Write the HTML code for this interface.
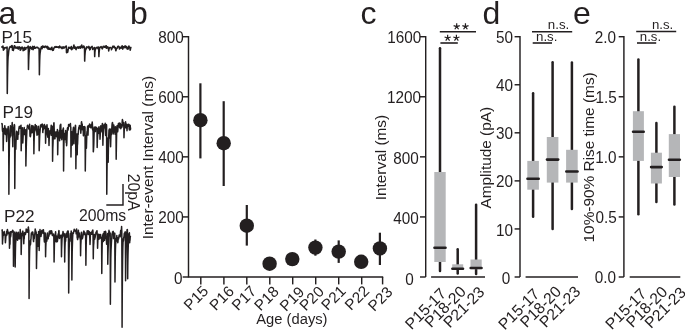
<!DOCTYPE html>
<html><head><meta charset="utf-8"><title>Figure</title>
<style>html,body{margin:0;padding:0;background:#fff}body{width:685px;height:330px;overflow:hidden}svg{display:block;will-change:transform}text{font-family:"Liberation Sans",sans-serif;fill:#231f20}</style>
</head><body>
<svg width="685" height="330" viewBox="0 0 685 330">
<rect width="685" height="330" fill="#fff"/>
<text x="-1.6" y="23.5" font-size="32">a</text>
<text x="129.9" y="23.5" font-size="32">b</text>
<text x="360.5" y="23.5" font-size="32">c</text>
<text x="482.6" y="23.5" font-size="32">d</text>
<text x="573.0" y="23.5" font-size="32">e</text>
<text x="1.4" y="42.9" font-size="17.2">P15</text>
<text x="2.6" y="117.6" font-size="17.2">P19</text>
<text x="4.0" y="221.6" font-size="17.2">P22</text>
<text x="78.9" y="221.0" font-size="15.75">200ms</text>
<text transform="translate(127.6,173.7) rotate(90)" font-size="15.85">20pA</text>
<path d="M106.3 204.9H123V184.1" fill="none" stroke="#231f20" stroke-width="1.45"/>
<polyline points="1.70,47.0 1.90,46.9 2.10,46.9 2.30,47.2 2.50,47.5 2.70,46.7 2.90,46.0 3.10,47.2 3.30,48.6 3.38,50.2 3.50,50.0 3.70,48.9 3.90,48.2 4.10,48.0 4.30,48.3 4.50,48.9 4.70,48.1 4.90,47.7 5.10,47.6 5.30,47.5 5.50,47.7 5.70,47.8 5.90,47.8 6.10,47.9 6.30,47.8 6.50,47.7 6.70,47.4 6.90,47.0 7.10,47.0 7.28,93.4 7.30,91.6 7.50,77.3 7.70,67.3 7.90,60.5 8.10,56.7 8.30,55.3 8.50,53.4 8.70,51.4 8.90,50.0 9.10,49.0 9.30,48.2 9.50,47.8 9.70,47.6 9.90,47.1 10.10,46.6 10.30,46.8 10.50,47.1 10.70,47.0 10.90,46.5 11.10,46.3 11.30,46.8 11.50,47.3 11.70,46.5 11.90,45.6 12.10,45.6 12.30,46.8 12.50,50.1 12.70,49.7 12.90,49.6 13.10,49.1 13.30,50.5 13.50,49.6 13.70,49.0 13.90,47.8 14.10,46.4 14.30,45.8 14.50,45.8 14.70,45.9 14.90,45.9 15.10,47.0 15.30,47.9 15.50,47.3 15.70,47.4 15.90,47.9 16.10,47.9 16.30,47.5 16.50,47.2 16.70,47.3 16.90,47.6 17.10,48.2 17.30,47.7 17.50,47.3 17.70,47.1 17.90,47.4 18.10,48.5 18.30,49.1 18.50,48.5 18.70,48.0 18.90,47.3 19.10,46.7 19.30,47.2 19.50,48.0 19.70,48.0 19.90,47.3 20.10,48.7 20.18,50.2 20.30,49.8 20.50,49.2 20.70,49.3 20.90,49.6 21.10,48.8 21.30,47.7 21.50,47.2 21.70,47.3 21.90,47.3 22.10,47.2 22.30,47.1 22.50,47.8 22.70,48.5 22.90,48.7 23.10,50.7 23.30,50.1 23.50,48.7 23.70,48.0 23.90,48.4 24.10,48.9 24.30,50.1 24.50,48.0 24.70,47.4 24.90,47.5 25.10,47.8 25.30,48.2 25.50,48.4 25.70,49.4 25.90,48.1 26.10,47.9 26.30,47.9 26.50,47.8 26.70,47.6 26.90,47.6 27.10,47.8 27.30,47.8 27.50,47.6 27.70,47.5 27.90,46.8 28.10,46.1 28.30,46.3 28.48,69.4 28.50,68.5 28.70,60.8 28.90,55.6 29.10,52.4 29.30,50.9 29.50,50.1 29.70,48.4 29.90,46.9 30.10,46.6 30.30,46.8 30.50,47.2 30.70,47.8 30.90,48.3 31.10,47.9 31.30,47.6 31.50,48.3 31.70,49.1 31.90,48.6 32.10,48.9 32.30,48.8 32.50,47.2 32.70,46.4 32.90,47.4 33.10,49.7 33.30,49.2 33.50,48.4 33.70,47.8 33.90,47.3 34.10,46.9 34.30,46.4 34.50,47.2 34.70,48.1 34.90,48.1 35.10,48.0 35.30,48.1 35.50,47.9 35.70,47.7 35.90,47.5 36.10,47.4 36.30,47.3 36.50,47.5 36.70,47.6 36.90,47.5 37.10,47.3 37.30,47.5 37.50,47.7 37.70,47.4 37.90,47.7 38.10,47.9 38.30,47.9 38.50,47.9 38.70,48.3 38.90,48.8 39.10,48.4 39.30,62.9 39.38,74.7 39.50,68.0 39.70,60.1 39.90,55.2 40.10,53.0 40.30,51.8 40.50,50.4 40.70,49.4 40.90,48.5 41.10,47.7 41.30,47.1 41.50,46.7 41.70,46.7 41.90,47.7 42.10,48.7 42.30,47.4 42.50,46.1 42.70,46.1 42.90,46.5 43.10,46.8 43.30,47.2 43.50,47.3 43.70,46.7 43.90,46.2 44.10,46.6 44.30,46.9 44.50,47.2 44.70,47.5 44.90,47.4 45.10,47.1 45.30,46.7 45.50,46.4 45.70,46.1 45.90,46.4 46.10,46.6 46.30,46.8 46.50,47.0 46.70,47.4 46.90,47.9 47.10,48.0 47.30,47.2 47.50,46.4 47.70,47.4 47.90,48.5 48.10,49.2 48.30,47.8 48.50,47.5 48.70,48.2 48.90,48.8 49.10,49.0 49.30,49.2 49.50,48.9 49.70,48.5 49.90,48.2 50.10,49.0 50.30,49.3 50.50,49.5 50.70,49.5 50.90,49.0 51.10,48.6 51.30,48.2 51.50,47.9 51.70,47.5 51.90,47.2 52.10,48.7 52.18,50.0 52.30,49.5 52.50,48.9 52.70,50.4 52.90,49.5 53.10,49.8 53.30,50.3 53.50,49.6 53.70,48.6 53.90,48.1 54.10,47.9 54.30,47.7 54.50,47.3 54.70,46.9 54.90,47.1 55.10,47.4 55.30,47.3 55.50,47.0 55.70,46.8 55.90,46.6 56.10,46.6 56.30,46.9 56.50,47.2 56.70,47.0 56.90,46.8 57.10,47.0 57.30,47.2 57.50,47.3 57.70,47.2 57.90,47.1 58.10,46.9 58.30,46.7 58.50,47.2 58.70,47.7 58.90,47.8 59.10,47.8 59.30,47.2 59.50,47.2 59.70,46.1 59.90,46.8 60.10,47.5 60.30,47.4 60.50,47.3 60.70,47.2 60.90,47.1 61.10,47.3 61.30,47.8 61.50,48.1 61.70,47.6 61.90,47.2 62.10,48.6 62.30,48.3 62.50,47.6 62.70,47.1 62.90,47.1 63.10,47.5 63.30,47.5 63.50,48.1 63.70,46.9 63.90,47.0 64.10,47.2 64.30,48.0 64.50,47.6 64.70,47.3 64.90,47.1 65.10,47.0 65.30,47.0 65.50,46.9 65.70,46.6 65.90,46.2 66.10,46.1 66.30,46.1 66.48,52.6 66.50,52.5 66.70,52.7 66.90,52.7 67.10,51.1 67.30,49.8 67.50,50.7 67.70,52.2 67.90,51.0 68.10,49.8 68.30,48.8 68.50,47.8 68.70,47.3 68.90,47.7 69.10,48.2 69.30,47.8 69.50,47.4 69.70,47.4 69.90,47.5 70.10,47.8 70.30,48.3 70.50,48.6 70.70,48.3 70.90,48.0 71.10,47.3 71.30,46.6 71.50,47.4 71.70,49.8 71.90,49.3 72.10,48.5 72.30,48.0 72.50,48.3 72.70,48.7 72.90,48.2 73.10,47.7 73.30,47.0 73.50,46.4 73.70,45.7 73.90,45.0 74.10,45.9 74.30,47.0 74.50,48.1 74.70,48.1 74.90,47.5 75.10,47.2 75.30,47.0 75.50,47.5 75.70,48.5 75.90,49.3 76.10,49.6 76.30,48.5 76.50,48.4 76.70,48.5 76.90,47.9 77.10,47.1 77.30,47.0 77.50,47.5 77.70,47.8 77.90,47.3 78.10,46.8 78.30,47.5 78.50,48.0 78.70,48.2 78.90,48.0 79.10,47.9 79.30,47.7 79.50,47.5 79.70,46.9 79.90,46.5 80.10,47.3 80.30,48.2 80.50,48.0 80.70,47.5 80.90,46.9 81.10,46.3 81.30,45.7 81.50,45.4 81.70,45.0 81.90,46.2 82.10,47.4 82.30,47.7 82.50,47.7 82.70,47.6 82.90,47.6 83.10,47.3 83.30,46.7 83.50,46.1 83.70,46.1 83.90,46.2 84.10,46.6 84.30,47.2 84.50,47.3 84.68,61.1 84.70,60.5 84.90,55.8 85.10,53.0 85.30,51.2 85.50,50.1 85.70,49.5 85.90,49.1 86.10,48.9 86.30,48.4 86.50,47.5 86.70,46.9 86.90,47.1 87.10,47.2 87.30,47.4 87.50,47.5 87.70,47.3 87.90,47.0 88.10,47.1 88.30,47.7 88.50,47.9 88.70,47.2 88.90,46.4 89.10,47.0 89.30,47.6 89.50,47.4 89.70,50.0 89.90,49.5 90.10,49.4 90.30,49.3 90.50,48.5 90.70,47.9 90.90,47.4 91.10,47.0 91.30,47.0 91.50,47.1 91.70,46.9 91.90,46.5 92.10,46.4 92.30,47.2 92.50,47.9 92.70,49.4 92.90,49.2 93.10,48.6 93.30,48.2 93.50,48.0 93.70,48.0 93.90,48.1 94.10,48.0 94.30,47.9 94.50,47.5 94.68,56.6 94.70,56.1 94.90,52.2 95.10,50.7 95.30,49.4 95.50,49.2 95.70,49.1 95.90,48.4 96.10,47.9 96.30,47.6 96.50,47.5 96.70,47.6 96.90,47.8 97.10,47.7 97.30,47.3 97.50,47.2 97.70,47.9 97.90,48.6 98.10,47.9 98.30,47.3 98.50,47.1 98.70,47.1 98.88,56.6 98.90,56.2 99.10,52.7 99.30,50.6 99.50,49.1 99.70,48.1 99.90,47.7 100.10,47.4 100.30,47.3 100.50,47.3 100.70,47.1 100.90,46.7 101.10,46.5 101.30,46.9 101.50,47.4 101.70,47.4 101.90,48.4 102.10,48.5 102.30,48.9 102.50,48.6 102.70,47.6 102.90,46.9 103.10,46.6 103.30,46.4 103.50,46.4 103.70,46.3 103.90,46.6 104.10,47.1 104.30,47.3 104.50,47.3 104.70,47.1 104.90,46.6 105.10,46.2 105.30,46.8 105.50,47.5 105.70,47.0 105.90,46.0 106.10,45.7 106.30,46.0 106.50,48.3 106.70,48.1 106.90,47.7 107.10,47.6 107.30,47.5 107.50,47.2 107.70,46.8 107.90,47.0 108.10,47.9 108.30,48.5 108.50,48.4 108.70,50.9 108.90,49.6 109.10,48.6 109.30,48.1 109.50,47.8 109.70,47.7 109.90,47.5 110.10,47.4 110.30,47.4 110.50,47.4 110.70,47.7 110.90,47.9 111.10,48.0 111.30,48.2 111.50,49.8 111.70,49.2 111.90,48.6 112.10,48.1 112.30,47.6 112.50,47.0 112.70,46.5 112.90,46.2 113.10,46.1 113.30,46.4 113.50,47.1 113.70,47.4 113.90,46.8 114.10,46.2 114.30,46.5 114.50,46.8 114.70,47.4 114.90,48.0 115.10,48.2 115.30,47.9 115.50,47.7 115.70,50.3 115.90,50.8 116.10,49.8 116.30,49.1 116.50,48.8 116.70,48.6 116.90,48.4 117.10,48.2 117.30,47.9 117.50,47.2 117.70,46.5 117.90,46.4 118.10,46.2 118.30,46.2 118.50,46.3 118.70,46.5 118.90,46.8 119.10,47.2 119.30,48.1 119.50,49.0 119.70,48.2 119.90,47.5 120.10,47.3 120.30,47.2 120.50,47.4 120.70,47.8 120.90,48.1 121.10,48.1 121.30,48.0 121.50,47.4 121.70,46.8 121.90,46.2 122.10,45.7 122.30,46.3 122.50,48.1 122.70,49.1 122.90,48.0 123.10,46.8 123.30,46.8 123.50,46.7 123.70,47.2 123.90,47.8 124.10,47.7 124.30,46.9 124.50,46.3 124.70,46.5 124.90,46.8 125.10,46.4 125.30,45.9 125.50,46.5 125.70,47.4 125.90,47.6 126.10,46.9 126.30,46.5 126.50,46.8 126.70,47.2 126.90,47.5 127.10,49.0 127.30,48.3 127.50,47.6 127.70,47.8 127.90,48.6 128.10,49.1 128.30,48.1 128.50,47.2 128.70,46.6 128.90,46.0 129.10,46.5 129.30,47.4 129.50,47.9 129.70,47.9 129.90,47.9 130.10,49.2 130.18,50.2 130.30,49.9 130.50,48.8 130.70,47.8 130.90,47.4" fill="none" stroke="#231f20" stroke-width="1.55" stroke-linejoin="round" stroke-linecap="round"/>
<polyline points="1.80,123.8 2.00,123.5 2.20,124.0 2.40,129.6 2.60,131.5 2.80,129.1 3.00,129.1 3.18,150.8 3.20,149.6 3.40,140.2 3.60,133.1 3.80,128.6 4.00,128.7 4.20,133.9 4.40,130.4 4.60,127.0 4.80,125.7 5.00,127.9 5.20,133.1 5.40,130.8 5.60,134.6 5.80,132.1 6.00,128.5 6.20,131.1 6.40,134.1 6.60,141.4 6.80,138.9 7.00,135.1 7.20,132.7 7.40,131.0 7.60,129.4 7.80,129.3 8.00,128.5 8.20,126.5 8.40,127.6 8.60,130.1 8.80,165.0 8.88,194.3 9.00,177.0 9.20,158.3 9.40,144.8 9.60,138.2 9.80,137.9 10.00,137.5 10.20,131.8 10.40,125.7 10.60,135.5 10.80,135.9 11.00,130.9 11.20,128.9 11.40,127.9 11.60,127.4 11.80,127.2 12.00,125.6 12.20,122.6 12.40,127.3 12.60,138.8 12.80,146.7 13.00,137.5 13.20,132.5 13.40,130.7 13.60,128.3 13.80,127.2 14.00,127.0 14.20,125.1 14.40,124.6 14.60,125.6 14.78,188.6 14.80,185.7 15.00,162.8 15.20,148.1 15.40,144.5 15.60,143.6 15.80,149.3 16.00,142.5 16.20,138.1 16.40,133.3 16.60,131.2 16.80,139.0 17.00,136.2 17.20,134.0 17.40,132.5 17.60,139.0 17.80,139.3 18.00,133.9 18.20,131.7 18.40,133.1 18.60,134.2 18.80,129.5 19.00,127.9 19.20,126.9 19.40,126.4 19.60,126.9 19.80,127.5 20.00,128.3 20.20,127.7 20.40,127.3 20.60,127.0 20.80,125.7 21.00,125.2 21.18,150.8 21.20,150.1 21.40,142.2 21.60,138.0 21.80,133.6 22.00,131.6 22.20,128.8 22.40,127.7 22.60,132.5 22.80,142.9 23.00,139.0 23.20,135.0 23.40,131.9 23.60,133.2 23.80,132.2 24.00,129.9 24.20,127.6 24.40,133.7 24.60,134.3 24.80,134.0 25.00,131.9 25.20,134.6 25.40,135.5 25.60,129.8 25.80,148.1 25.88,166.1 26.00,159.6 26.20,149.9 26.40,142.0 26.60,137.7 26.80,132.4 27.00,128.3 27.20,127.7 27.40,125.8 27.60,125.2 27.80,125.9 28.00,126.1 28.20,126.5 28.40,127.0 28.60,126.5 28.80,129.0 29.00,128.0 29.20,127.5 29.40,126.2 29.60,124.2 29.80,129.5 30.00,136.3 30.20,133.1 30.40,136.7 30.60,135.6 30.80,132.5 31.00,132.9 31.20,132.8 31.40,128.1 31.60,126.1 31.80,125.5 32.00,126.1 32.20,132.7 32.40,131.6 32.60,130.6 32.80,125.9 33.00,125.8 33.20,127.0 33.40,129.2 33.60,126.7 33.80,141.3 33.88,153.8 34.00,146.9 34.20,137.7 34.40,132.8 34.60,131.9 34.80,130.5 35.00,128.0 35.20,124.5 35.40,125.2 35.60,129.8 35.80,128.5 36.00,129.1 36.20,125.7 36.40,126.0 36.60,130.6 36.80,132.2 37.00,135.3 37.20,133.2 37.40,132.9 37.60,134.6 37.80,132.0 38.00,130.4 38.20,126.4 38.40,126.3 38.60,130.4 38.80,129.2 39.00,131.0 39.18,150.8 39.20,150.6 39.40,145.1 39.60,138.7 39.80,133.9 40.00,131.9 40.20,129.4 40.40,126.0 40.60,124.9 40.80,125.1 41.00,126.4 41.20,124.7 41.40,124.9 41.60,124.6 41.80,126.9 42.00,126.2 42.20,123.9 42.40,124.7 42.60,124.7 42.80,132.6 43.00,129.4 43.20,128.9 43.40,129.8 43.60,127.0 43.80,127.0 44.00,127.5 44.20,125.1 44.40,124.4 44.60,125.3 44.80,126.6 45.00,128.8 45.20,126.6 45.40,126.2 45.58,143.3 45.60,142.4 45.80,135.8 46.00,130.5 46.20,128.0 46.40,127.6 46.60,127.5 46.80,126.2 47.00,124.7 47.20,128.1 47.40,134.8 47.60,135.6 47.80,137.2 48.00,134.6 48.20,132.2 48.40,128.6 48.60,134.9 48.80,137.9 49.00,145.4 49.20,139.3 49.40,135.5 49.60,135.7 49.80,132.2 50.00,130.7 50.20,131.3 50.40,131.5 50.60,133.6 50.80,130.7 51.00,127.9 51.20,125.3 51.40,135.2 51.60,133.3 51.80,127.6 52.00,126.9 52.20,126.3 52.40,126.3 52.58,161.3 52.60,159.7 52.80,148.5 53.00,143.9 53.20,137.3 53.40,132.0 53.60,129.0 53.80,122.9 54.00,122.8 54.20,129.7 54.40,138.8 54.60,134.5 54.80,132.5 55.00,138.7 55.20,134.9 55.40,133.6 55.60,132.0 55.80,133.7 56.00,134.5 56.20,135.1 56.40,132.0 56.60,136.7 56.80,135.6 57.00,135.6 57.20,132.7 57.40,129.5 57.60,142.5 57.68,154.8 57.80,149.7 58.00,138.7 58.20,135.9 58.40,134.0 58.60,134.0 58.80,132.3 59.00,132.1 59.20,132.7 59.40,130.4 59.60,140.8 59.80,134.3 60.00,128.1 60.20,124.9 60.40,127.5 60.60,127.8 60.80,124.2 61.00,134.8 61.20,138.2 61.40,137.0 61.60,133.7 61.80,139.8 62.00,137.2 62.20,132.5 62.40,130.2 62.60,130.0 62.80,131.1 63.00,130.3 63.20,128.7 63.40,128.0 63.58,171.0 63.60,168.6 63.80,149.3 64.00,141.5 64.20,136.7 64.40,133.4 64.60,135.4 64.80,136.2 65.00,138.1 65.20,139.6 65.40,135.2 65.60,130.4 65.80,134.2 66.00,136.8 66.20,142.8 66.40,135.9 66.60,145.8 66.80,143.4 67.00,137.1 67.20,132.3 67.40,128.3 67.60,127.8 67.80,127.5 68.00,130.1 68.20,128.9 68.40,127.2 68.60,124.6 68.80,124.5 69.00,125.7 69.20,125.8 69.40,126.1 69.60,126.0 69.80,125.3 70.00,124.6 70.20,125.1 70.40,123.4 70.60,126.7 70.80,127.2 70.98,157.0 71.00,155.3 71.20,142.2 71.40,137.9 71.60,136.2 71.80,131.8 72.00,134.0 72.20,139.1 72.40,145.0 72.60,140.9 72.80,133.8 73.00,130.9 73.20,129.0 73.40,127.7 73.60,127.2 73.80,131.1 74.00,143.7 74.20,138.5 74.40,133.5 74.60,129.3 74.80,129.7 75.00,129.3 75.20,127.8 75.40,125.3 75.60,125.6 75.80,151.5 75.88,168.8 76.00,158.6 76.20,148.6 76.40,139.1 76.60,137.4 76.80,134.0 77.00,145.8 77.20,154.8 77.40,145.1 77.60,143.8 77.80,138.6 78.00,133.6 78.20,134.4 78.40,131.4 78.60,129.4 78.80,127.7 79.00,127.0 79.20,126.4 79.40,125.6 79.60,126.3 79.80,128.7 80.00,127.6 80.20,126.4 80.40,125.9 80.60,129.0 80.80,133.3 81.00,130.7 81.20,127.3 81.40,122.4 81.60,121.7 81.80,124.7 82.00,124.6 82.20,124.0 82.40,129.7 82.60,129.1 82.80,126.4 83.00,126.9 83.20,129.1 83.40,135.8 83.60,134.9 83.80,131.2 84.00,128.1 84.20,126.5 84.40,128.5 84.60,129.9 84.80,129.6 85.00,127.1 85.20,151.6 85.28,171.0 85.40,162.4 85.60,148.1 85.80,139.4 86.00,135.9 86.20,144.2 86.40,148.2 86.60,141.7 86.80,134.0 87.00,131.5 87.20,133.6 87.40,128.7 87.60,126.3 87.80,126.4 88.00,135.1 88.20,130.0 88.40,125.5 88.60,126.9 88.80,127.0 89.00,125.4 89.20,127.1 89.40,126.6 89.60,123.9 89.80,126.6 90.00,126.2 90.20,124.7 90.40,127.3 90.60,126.1 90.80,125.8 91.00,127.9 91.20,126.7 91.40,126.3 91.60,124.5 91.80,123.9 92.00,124.5 92.20,122.1 92.40,124.0 92.60,129.9 92.80,128.4 93.00,126.9 93.20,139.6 93.28,151.8 93.40,151.3 93.60,148.3 93.80,144.3 94.00,135.9 94.20,131.0 94.40,130.6 94.60,127.7 94.80,127.0 95.00,128.2 95.20,130.5 95.40,131.6 95.60,128.4 95.80,126.9 96.00,127.4 96.20,129.5 96.40,128.0 96.60,127.6 96.80,129.9 97.00,127.9 97.18,147.4 97.20,146.8 97.40,139.6 97.60,136.1 97.80,133.6 98.00,128.8 98.20,132.9 98.40,131.1 98.60,130.7 98.80,127.4 99.00,126.8 99.20,133.5 99.40,130.7 99.60,128.2 99.80,129.2 100.00,139.3 100.20,135.6 100.40,131.4 100.60,128.7 100.80,125.7 101.00,131.9 101.20,130.3 101.40,129.5 101.60,130.8 101.80,130.2 102.00,127.9 102.20,125.1 102.40,123.4 102.60,124.0 102.80,137.5 102.88,145.3 103.00,140.8 103.20,134.7 103.40,130.1 103.60,128.5 103.80,127.2 104.00,125.8 104.20,124.7 104.40,124.7 104.60,126.8 104.80,127.0 105.00,128.2 105.20,123.3 105.40,131.5 105.60,135.4 105.80,132.3 106.00,131.7 106.20,128.8 106.40,124.4 106.60,125.6 106.78,194.3 106.80,191.9 107.00,171.8 107.20,155.5 107.40,144.6 107.60,139.9 107.80,140.5 108.00,138.0 108.18,162.3 108.20,160.7 108.40,148.0 108.60,141.4 108.80,134.6 109.00,129.9 109.20,133.3 109.40,129.1 109.60,138.1 109.80,135.4 110.00,133.1 110.20,129.0 110.40,136.5 110.60,146.8 110.80,140.0 111.00,133.9 111.20,129.4 111.40,134.8 111.60,131.3 111.80,128.3 112.00,125.2 112.20,123.5 112.40,122.6 112.60,122.7 112.80,125.4 113.00,131.5 113.20,133.9 113.40,129.2 113.60,125.3 113.80,125.1 114.00,127.3 114.20,132.1 114.40,131.3 114.60,131.3 114.80,130.3 115.00,133.6 115.20,134.3 115.40,126.7 115.60,129.4 115.80,131.0 116.00,130.1 116.18,159.2 116.20,158.1 116.40,145.4 116.60,134.9 116.80,128.8 117.00,125.8 117.20,125.7 117.40,128.7 117.60,131.8 117.80,130.9 118.00,127.1 118.20,124.8 118.40,123.6 118.60,124.6 118.80,125.1 119.00,125.7 119.20,123.2 119.40,123.0 119.60,127.8 119.80,124.6 120.00,123.2 120.20,123.5 120.40,125.7 120.60,126.6 120.80,128.7 121.00,127.5 121.20,124.8 121.40,124.7 121.60,126.8 121.80,127.4 122.00,126.5 122.20,121.4 122.40,119.5 122.60,120.6 122.80,121.2 123.00,123.0 123.20,125.6 123.40,123.6 123.60,124.0 123.80,122.8 123.98,137.8 124.00,137.0 124.20,131.1 124.40,127.6 124.60,126.5 124.80,127.1 125.00,125.0 125.20,126.0 125.40,124.8 125.60,121.7 125.80,123.8 126.00,127.9 126.20,124.7 126.40,125.1 126.60,124.4 126.80,124.2 127.00,130.7 127.20,127.8 127.40,125.0 127.60,125.9 127.80,126.2 128.00,125.9 128.20,124.7 128.40,124.2 128.60,126.4 128.80,125.0 129.00,124.5 129.20,128.9 129.40,129.9 129.60,127.2 129.80,125.3 130.00,125.2 130.20,125.5 130.40,129.7 130.60,128.1" fill="none" stroke="#231f20" stroke-width="1.5" stroke-linejoin="round" stroke-linecap="round"/>
<polyline points="2.00,230.1 2.20,229.8 2.40,237.6 2.48,244.0 2.60,241.2 2.80,239.0 3.00,236.2 3.20,234.7 3.40,235.3 3.60,233.4 3.80,232.1 4.00,232.1 4.20,231.5 4.40,233.2 4.60,234.8 4.80,234.2 5.00,235.3 5.20,236.1 5.28,240.8 5.40,242.7 5.60,240.7 5.80,237.4 6.00,236.0 6.20,235.4 6.40,235.3 6.60,231.5 6.80,231.4 7.00,235.0 7.20,230.9 7.40,229.4 7.60,230.4 7.80,231.5 8.00,232.4 8.20,233.2 8.40,232.6 8.60,232.2 8.80,232.4 9.00,234.2 9.20,235.0 9.40,241.2 9.48,248.3 9.60,245.2 9.80,244.0 10.00,244.3 10.20,235.3 10.40,231.7 10.60,236.8 10.80,235.7 11.00,233.7 11.20,231.8 11.40,232.0 11.60,232.1 11.80,232.1 12.00,231.5 12.20,231.3 12.40,231.4 12.60,230.2 12.80,230.6 13.00,232.5 13.20,231.1 13.40,250.3 13.48,266.3 13.60,256.5 13.80,249.6 14.00,243.4 14.20,238.2 14.40,238.9 14.60,235.4 14.80,231.9 15.00,233.4 15.18,267.1 15.20,265.6 15.40,252.0 15.60,243.7 15.80,241.4 16.00,240.2 16.20,237.2 16.40,234.8 16.60,232.3 16.80,233.1 17.00,233.3 17.20,234.1 17.40,236.5 17.60,240.3 17.80,235.9 18.00,236.5 18.20,235.5 18.40,232.3 18.60,235.6 18.80,235.9 19.00,234.5 19.20,238.9 19.40,238.8 19.60,238.1 19.80,238.5 20.00,235.9 20.20,229.5 20.40,233.7 20.60,233.3 20.80,233.7 21.00,233.4 21.18,254.6 21.20,253.5 21.40,244.8 21.60,240.3 21.80,237.3 22.00,235.1 22.20,233.0 22.40,235.6 22.60,231.4 22.80,231.1 23.00,232.3 23.20,234.6 23.40,233.3 23.60,234.7 23.78,243.8 23.80,243.3 24.00,237.6 24.20,238.6 24.40,234.8 24.60,233.1 24.80,232.5 25.00,232.5 25.20,233.1 25.40,234.5 25.60,233.6 25.80,232.9 26.00,231.4 26.20,229.1 26.40,230.0 26.60,231.0 26.80,232.0 27.00,231.6 27.20,231.7 27.40,232.2 27.60,229.8 27.80,229.6 28.00,231.6 28.20,227.7 28.40,227.0 28.60,229.5 28.80,230.0 29.00,268.2 29.08,298.6 29.20,280.5 29.40,261.9 29.60,250.9 29.80,246.6 30.00,240.9 30.20,240.7 30.40,245.0 30.60,243.7 30.80,239.5 31.00,239.2 31.20,234.8 31.40,233.0 31.60,233.6 31.80,234.6 32.00,233.5 32.20,231.9 32.40,231.9 32.60,232.0 32.80,232.0 33.00,234.0 33.20,237.5 33.40,240.2 33.60,241.6 33.80,236.1 34.00,236.1 34.20,238.8 34.40,236.6 34.60,234.3 34.80,234.0 35.00,232.3 35.20,229.0 35.40,230.2 35.60,230.9 35.80,231.1 36.00,232.4 36.20,232.2 36.40,252.5 36.48,268.6 36.60,260.7 36.80,252.1 37.00,247.8 37.20,240.8 37.40,236.7 37.60,234.8 37.80,246.2 38.00,245.6 38.20,242.1 38.40,234.9 38.60,231.6 38.80,233.0 39.00,232.0 39.18,250.4 39.20,249.5 39.40,242.7 39.60,237.9 39.80,233.8 40.00,229.6 40.20,231.0 40.40,232.6 40.60,231.6 40.80,235.3 41.00,236.5 41.20,234.7 41.40,234.3 41.60,233.0 41.80,230.5 42.00,230.6 42.20,231.5 42.40,230.2 42.60,231.8 42.80,232.8 43.00,233.2 43.20,230.2 43.40,229.7 43.60,231.8 43.80,232.1 44.00,232.7 44.20,239.8 44.40,241.9 44.60,239.3 44.80,240.3 45.00,234.7 45.20,232.9 45.40,235.0 45.58,256.8 45.60,255.5 45.80,246.9 46.00,242.6 46.20,239.9 46.40,237.7 46.60,237.4 46.80,241.2 47.00,238.9 47.20,234.2 47.40,233.0 47.60,237.6 47.80,238.0 48.00,237.3 48.20,238.7 48.40,235.8 48.60,236.3 48.80,236.3 49.00,235.7 49.20,231.9 49.40,231.2 49.60,232.7 49.80,233.9 50.00,233.2 50.20,230.8 50.40,233.4 50.60,233.7 50.80,232.3 51.00,233.0 51.20,232.9 51.40,232.4 51.60,230.8 51.80,231.7 52.00,232.6 52.20,235.1 52.40,235.4 52.60,234.1 52.80,234.8 53.00,234.9 53.20,235.7 53.40,234.3 53.60,234.1 53.80,235.4 54.00,250.0 54.08,262.0 54.20,255.5 54.40,245.1 54.60,239.4 54.80,236.8 55.00,241.9 55.20,237.0 55.40,233.8 55.60,231.7 55.80,235.9 56.00,241.2 56.20,236.4 56.40,235.9 56.60,237.1 56.80,242.0 57.00,239.6 57.20,238.0 57.40,241.4 57.60,240.0 57.80,237.4 58.00,234.8 58.20,235.0 58.40,233.6 58.60,234.5 58.80,231.1 59.00,230.6 59.20,236.6 59.40,238.4 59.60,237.2 59.80,235.3 60.00,235.2 60.20,236.1 60.40,237.8 60.60,236.1 60.80,235.4 61.00,237.7 61.20,236.9 61.40,247.4 61.48,256.8 61.60,249.5 61.80,244.4 62.00,239.4 62.20,234.3 62.40,237.7 62.60,236.0 62.80,233.5 63.00,231.5 63.20,232.6 63.40,235.4 63.60,234.7 63.80,235.4 64.00,233.4 64.20,236.5 64.40,234.0 64.60,248.3 64.68,262.0 64.80,254.5 65.00,246.4 65.20,242.0 65.40,237.9 65.60,241.1 65.80,237.5 66.00,234.2 66.20,233.5 66.40,234.7 66.60,236.3 66.80,236.6 67.00,237.1 67.20,232.8 67.40,231.4 67.60,232.8 67.80,231.4 68.00,230.9 68.20,231.4 68.40,233.7 68.60,266.9 68.68,293.0 68.80,279.6 69.00,259.8 69.20,247.9 69.40,243.2 69.60,239.1 69.80,239.4 70.00,241.3 70.20,235.5 70.40,233.4 70.60,234.8 70.80,234.1 71.00,233.7 71.20,231.0 71.40,233.2 71.60,234.7 71.80,261.8 71.88,280.0 72.00,266.7 72.20,251.6 72.40,245.0 72.60,238.5 72.80,234.6 73.00,232.6 73.20,233.3 73.40,233.3 73.60,232.3 73.80,230.9 74.00,230.2 74.20,229.3 74.40,231.0 74.60,230.9 74.80,230.6 75.00,230.1 75.20,230.3 75.40,231.2 75.60,230.7 75.80,231.0 76.00,231.9 76.20,233.8 76.40,232.8 76.60,228.9 76.80,232.2 77.00,232.1 77.20,237.8 77.40,238.1 77.60,239.6 77.80,238.3 78.00,238.2 78.20,235.5 78.40,230.2 78.60,236.8 78.80,236.4 79.00,233.3 79.20,233.0 79.40,233.1 79.60,234.8 79.80,237.1 80.00,237.5 80.20,239.1 80.40,237.2 80.58,255.7 80.60,254.5 80.80,245.3 81.00,241.8 81.20,236.5 81.40,232.3 81.60,236.1 81.80,238.3 82.00,238.9 82.20,236.0 82.40,238.6 82.60,237.9 82.80,236.9 83.00,235.3 83.20,233.7 83.40,232.5 83.60,231.7 83.80,231.1 84.00,231.2 84.20,232.4 84.40,234.6 84.60,233.5 84.80,232.6 85.00,233.0 85.20,234.4 85.40,235.0 85.60,234.2 85.80,251.1 85.88,265.2 86.00,255.8 86.20,244.5 86.40,238.1 86.60,235.1 86.80,234.6 87.00,232.2 87.20,230.8 87.40,234.1 87.60,233.7 87.80,233.0 88.00,232.3 88.20,230.8 88.40,231.6 88.60,234.5 88.80,234.2 89.00,232.6 89.20,231.6 89.40,233.2 89.60,234.8 89.80,237.7 90.00,244.4 90.20,240.4 90.40,233.4 90.60,232.5 90.80,232.5 91.00,232.9 91.20,232.6 91.40,233.1 91.60,234.3 91.80,233.1 92.00,231.9 92.20,230.9 92.40,232.1 92.60,231.8 92.80,230.1 93.00,231.9 93.20,247.3 93.28,258.8 93.40,249.7 93.60,245.1 93.80,243.1 94.00,237.4 94.20,236.1 94.40,234.5 94.60,239.3 94.80,238.4 95.00,237.8 95.20,237.0 95.40,235.1 95.60,233.9 95.80,233.3 96.00,232.5 96.20,232.2 96.40,232.3 96.60,231.0 96.80,231.4 97.00,230.8 97.20,235.2 97.40,234.5 97.58,248.3 97.60,247.3 97.80,241.7 98.00,238.1 98.20,235.4 98.40,234.3 98.60,238.5 98.80,235.3 99.00,239.2 99.20,237.3 99.40,235.6 99.60,234.6 99.80,237.6 100.00,238.0 100.20,236.3 100.40,235.2 100.60,234.5 100.80,238.2 101.00,238.2 101.20,237.2 101.40,238.9 101.60,238.4 101.78,273.6 101.80,272.3 102.00,254.3 102.20,243.8 102.40,240.6 102.60,236.2 102.80,234.8 103.00,235.9 103.20,233.8 103.40,241.5 103.60,236.2 103.80,237.2 104.00,235.8 104.20,231.8 104.40,235.4 104.60,240.2 104.80,236.5 105.00,233.2 105.20,231.5 105.40,231.3 105.60,232.2 105.80,231.9 106.00,238.4 106.20,237.7 106.40,238.2 106.60,244.2 106.80,241.8 107.00,238.2 107.20,236.5 107.40,235.4 107.60,233.5 107.78,264.2 107.80,262.3 108.00,253.3 108.20,247.9 108.40,243.5 108.60,236.6 108.80,232.4 109.00,230.3 109.20,231.0 109.40,231.6 109.60,235.7 109.80,233.8 110.00,233.1 110.20,233.1 110.38,304.3 110.40,300.7 110.60,275.7 110.80,258.4 111.00,250.8 111.20,246.6 111.40,242.6 111.60,239.8 111.80,237.7 112.00,233.6 112.20,233.3 112.40,232.7 112.60,231.7 112.80,232.0 113.00,231.9 113.20,231.4 113.40,233.4 113.60,238.6 113.80,236.5 114.00,233.6 114.20,233.2 114.40,238.0 114.60,234.7 114.80,233.2 114.98,282.1 115.00,279.8 115.20,261.8 115.40,250.3 115.60,244.8 115.80,242.6 116.00,238.8 116.20,240.0 116.40,238.0 116.60,238.3 116.80,235.6 117.00,240.9 117.20,240.7 117.40,238.3 117.60,239.0 117.80,242.7 118.00,241.4 118.20,237.5 118.40,239.2 118.60,238.9 118.80,237.2 119.00,236.1 119.20,235.0 119.40,235.6 119.60,235.3 119.80,235.8 120.00,236.0 120.20,236.7 120.40,233.7 120.60,231.1 120.80,230.2 121.00,230.8 121.20,231.2 121.40,229.8 121.60,226.5 121.80,231.9 122.00,285.9 122.08,327.2 122.20,303.0 122.40,277.0 122.60,259.7 122.80,248.3 123.00,242.8 123.20,238.8 123.40,241.2 123.60,240.0 123.80,237.1 124.00,237.2 124.20,234.0 124.40,233.3 124.60,236.0 124.80,232.9 125.00,232.1 125.20,234.6 125.40,231.9 125.58,280.8 125.60,278.3 125.80,259.5 126.00,247.3 126.20,240.5 126.40,238.0 126.60,236.4 126.80,233.5 127.00,230.4 127.20,229.4 127.40,229.8 127.60,258.2 127.68,278.8 127.80,265.3 128.00,254.0 128.20,247.4 128.40,242.0 128.60,237.8 128.80,233.7 129.00,236.8 129.20,236.2 129.40,232.7 129.60,239.4 129.68,242.8 129.80,240.8 130.00,240.2 130.20,237.2 130.40,236.4" fill="none" stroke="#231f20" stroke-width="1.5" stroke-linejoin="round" stroke-linecap="round"/>
<path d="M188.5 36.050000000000004V277.0H383.2" fill="none" stroke="#231f20" stroke-width="1.45"/>
<path d="M182.7 277.00H188.5" stroke="#231f20" stroke-width="1.45"/>
<text transform="translate(182.50,283.50) scale(1,1.05)" font-size="15.3" text-anchor="end">0</text>
<path d="M182.7 216.93H188.5" stroke="#231f20" stroke-width="1.45"/>
<text transform="translate(183.70,223.43) scale(1,1.05)" font-size="15.3" text-anchor="end">200</text>
<path d="M182.7 156.85H188.5" stroke="#231f20" stroke-width="1.45"/>
<text transform="translate(183.70,163.35) scale(1,1.05)" font-size="15.3" text-anchor="end">400</text>
<path d="M182.7 96.78H188.5" stroke="#231f20" stroke-width="1.45"/>
<text transform="translate(183.70,103.28) scale(1,1.05)" font-size="15.3" text-anchor="end">600</text>
<path d="M182.7 36.70H188.5" stroke="#231f20" stroke-width="1.45"/>
<text transform="translate(183.70,43.20) scale(1,1.05)" font-size="15.3" text-anchor="end">800</text>
<text transform="translate(152.5,157.6) rotate(-90)" font-size="15.4" text-anchor="middle">Inter-event Interval (ms)</text>
<text transform="translate(291.9,323.9) scale(1,1.04)" font-size="14.75" text-anchor="middle">Age (days)</text>
<path d="M200.8 277.0V284.4" stroke="#231f20" stroke-width="1.45"/>
<text transform="translate(209.3,291.9) rotate(-45)" font-size="15.3" text-anchor="end">P15</text>
<path d="M223.9 277.0V284.4" stroke="#231f20" stroke-width="1.45"/>
<text transform="translate(234.9,292.2) rotate(-45)" font-size="15.3" text-anchor="end">P16</text>
<path d="M246.8 277.0V284.4" stroke="#231f20" stroke-width="1.45"/>
<text transform="translate(257.3,292.2) rotate(-45)" font-size="15.3" text-anchor="end">P17</text>
<path d="M269.8 277.0V284.4" stroke="#231f20" stroke-width="1.45"/>
<text transform="translate(279.7,292.6) rotate(-45)" font-size="15.3" text-anchor="end">P18</text>
<path d="M292.7 277.0V284.4" stroke="#231f20" stroke-width="1.45"/>
<text transform="translate(305.2,292.9) rotate(-45)" font-size="15.3" text-anchor="end">P19</text>
<path d="M315.7 277.0V284.4" stroke="#231f20" stroke-width="1.45"/>
<text transform="translate(324.9,292.6) rotate(-45)" font-size="15.3" text-anchor="end">P20</text>
<path d="M338.7 277.0V284.4" stroke="#231f20" stroke-width="1.45"/>
<text transform="translate(346.7,291.9) rotate(-45)" font-size="15.3" text-anchor="end">P21</text>
<path d="M361.7 277.0V284.4" stroke="#231f20" stroke-width="1.45"/>
<text transform="translate(370.2,291.9) rotate(-45)" font-size="15.3" text-anchor="end">P22</text>
<path d="M382.6 277.0V284.4" stroke="#231f20" stroke-width="1.45"/>
<text transform="translate(393.6,292.9) rotate(-45)" font-size="15.3" text-anchor="end">P23</text>
<path d="M200.4 83.3V158.4" stroke="#231f20" stroke-width="2.2"/>
<circle cx="200.4" cy="120.2" r="7.2" fill="#231f20"/>
<path d="M223.7 101.2V186.0" stroke="#231f20" stroke-width="2.2"/>
<circle cx="223.7" cy="143.2" r="7.2" fill="#231f20"/>
<path d="M246.8 205.0V245.6" stroke="#231f20" stroke-width="2.2"/>
<circle cx="246.8" cy="225.7" r="7.2" fill="#231f20"/>
<circle cx="269.6" cy="263.7" r="7.2" fill="#231f20"/>
<circle cx="292.3" cy="259.1" r="7.2" fill="#231f20"/>
<path d="M315.4 239.5V255.7" stroke="#231f20" stroke-width="2.2"/>
<circle cx="315.4" cy="247.6" r="7.2" fill="#231f20"/>
<path d="M338.7 240.4V262.9" stroke="#231f20" stroke-width="2.2"/>
<circle cx="338.7" cy="251.6" r="7.2" fill="#231f20"/>
<circle cx="361.2" cy="261.8" r="7.2" fill="#231f20"/>
<path d="M379.9 232.7V265.0" stroke="#231f20" stroke-width="2.2"/>
<circle cx="379.9" cy="248.4" r="7.2" fill="#231f20"/>
<path d="M425.7 36.050000000000004V277.0" fill="none" stroke="#231f20" stroke-width="1.45"/>
<path d="M420.0 277.00H425.7" stroke="#231f20" stroke-width="1.45"/>
<text transform="translate(413.80,284.80) scale(1,1.05)" font-size="15.3" text-anchor="end">0</text>
<path d="M420.0 216.93H425.7" stroke="#231f20" stroke-width="1.45"/>
<text transform="translate(418.80,223.53) scale(1,1.05)" font-size="15.3" text-anchor="end">400</text>
<path d="M420.0 156.85H425.7" stroke="#231f20" stroke-width="1.45"/>
<text transform="translate(418.80,163.55) scale(1,1.05)" font-size="15.3" text-anchor="end">800</text>
<path d="M420.0 96.77H425.7" stroke="#231f20" stroke-width="1.45"/>
<text transform="translate(421.10,103.07) scale(1,1.05)" font-size="15.3" text-anchor="end">1200</text>
<path d="M420.0 36.70H425.7" stroke="#231f20" stroke-width="1.45"/>
<text transform="translate(421.20,42.60) scale(1,1.05)" font-size="15.3" text-anchor="end">1600</text>
<path d="M431.1 277.0H485.0" stroke="#231f20" stroke-width="1.45"/>
<text transform="translate(386.3,157.6) rotate(-90)" font-size="15.4" text-anchor="middle">Interval (ms)</text>
<path d="M440.0 48.2V271.0" stroke="#231f20" stroke-width="2.5" stroke-linecap="round"/>
<rect x="434.30" y="172.0" width="11.4" height="90.00" fill="#b5b6b8"/>
<path d="M434.50 247.7H445.50" stroke="#231f20" stroke-width="2.6" stroke-linecap="round"/>
<path d="M457.7 249.2V273.40000000000003" stroke="#231f20" stroke-width="2.5" stroke-linecap="round"/>
<rect x="452.20" y="264.3" width="11.0" height="5.50" fill="#b5b6b8"/>
<path d="M452.40 268.8H463.00" stroke="#231f20" stroke-width="2.6" stroke-linecap="round"/>
<path d="M476.1 204.79999999999998V274.1" stroke="#231f20" stroke-width="2.5" stroke-linecap="round"/>
<rect x="470.50" y="259.5" width="11.2" height="9.70" fill="#b5b6b8"/>
<path d="M470.70 268.0H481.50" stroke="#231f20" stroke-width="2.6" stroke-linecap="round"/>
<path d="M439.8 31.7H476.0" stroke="#231f20" stroke-width="1.5"/>
<path d="M440.4 43.0H457.8" stroke="#231f20" stroke-width="1.6"/>
<path d="M456.70 26.60L456.70 23.35M456.70 26.60L453.61 25.60M456.70 26.60L454.79 29.23M456.70 26.60L458.61 29.23M456.70 26.60L459.79 25.60" stroke="#231f20" stroke-width="1.2" fill="none"/>
<path d="M465.45 26.60L465.45 23.35M465.45 26.60L462.36 25.60M465.45 26.60L463.54 29.23M465.45 26.60L467.36 29.23M465.45 26.60L468.54 25.60" stroke="#231f20" stroke-width="1.2" fill="none"/>
<path d="M447.65 37.95L447.65 34.70M447.65 37.95L444.56 36.95M447.65 37.95L445.74 40.58M447.65 37.95L449.56 40.58M447.65 37.95L450.74 36.95" stroke="#231f20" stroke-width="1.2" fill="none"/>
<path d="M456.40 37.95L456.40 34.70M456.40 37.95L453.31 36.95M456.40 37.95L454.49 40.58M456.40 37.95L458.31 40.58M456.40 37.95L459.49 36.95" stroke="#231f20" stroke-width="1.2" fill="none"/>
<text transform="translate(447.2,294.6) rotate(-45)" font-size="15.7" text-anchor="end">P15-17</text>
<text transform="translate(466.8,292.6) rotate(-45)" font-size="15.7" text-anchor="end">P18-20</text>
<text transform="translate(485.5,293.0) rotate(-45)" font-size="15.7" text-anchor="end">P21-23</text>
<path d="M520.0 36.050000000000004V277.0" fill="none" stroke="#231f20" stroke-width="1.45"/>
<path d="M514.6 277.00H520.0" stroke="#231f20" stroke-width="1.45"/>
<text transform="translate(510.30,284.10) scale(1,1.05)" font-size="15.3" text-anchor="end">0</text>
<path d="M514.6 228.94H520.0" stroke="#231f20" stroke-width="1.45"/>
<text transform="translate(512.90,235.54) scale(1,1.05)" font-size="15.3" text-anchor="end">10</text>
<path d="M514.6 180.88H520.0" stroke="#231f20" stroke-width="1.45"/>
<text transform="translate(512.90,187.38) scale(1,1.05)" font-size="15.3" text-anchor="end">20</text>
<path d="M514.6 132.82H520.0" stroke="#231f20" stroke-width="1.45"/>
<text transform="translate(512.90,139.42) scale(1,1.05)" font-size="15.3" text-anchor="end">30</text>
<path d="M514.6 84.76H520.0" stroke="#231f20" stroke-width="1.45"/>
<text transform="translate(512.90,91.16) scale(1,1.05)" font-size="15.3" text-anchor="end">40</text>
<path d="M514.6 36.70H520.0" stroke="#231f20" stroke-width="1.45"/>
<text transform="translate(512.90,43.30) scale(1,1.05)" font-size="15.3" text-anchor="end">50</text>
<path d="M525.6 277.0H578.0" stroke="#231f20" stroke-width="1.45"/>
<text transform="translate(490.9,157.7) rotate(-90)" font-size="15.4" text-anchor="middle">Amplitude (pA)</text>
<path d="M533.1 93.3V216.8" stroke="#231f20" stroke-width="2.5" stroke-linecap="round"/>
<rect x="527.30" y="160.9" width="11.6" height="28.80" fill="#b5b6b8"/>
<path d="M527.50 178.8H538.70" stroke="#231f20" stroke-width="2.6" stroke-linecap="round"/>
<path d="M552.6 62.300000000000004V229.10000000000002" stroke="#231f20" stroke-width="2.5" stroke-linecap="round"/>
<rect x="546.80" y="137.0" width="11.6" height="45.60" fill="#b5b6b8"/>
<path d="M547.00 159.6H558.20" stroke="#231f20" stroke-width="2.6" stroke-linecap="round"/>
<path d="M571.9 62.6V209.0" stroke="#231f20" stroke-width="2.5" stroke-linecap="round"/>
<rect x="566.10" y="149.8" width="11.6" height="32.80" fill="#b5b6b8"/>
<path d="M566.30 171.5H577.50" stroke="#231f20" stroke-width="2.6" stroke-linecap="round"/>
<path d="M532.0 31.8H572.2" stroke="#231f20" stroke-width="1.5"/>
<path d="M532.7 43.0H552.0" stroke="#231f20" stroke-width="1.6"/>
<text x="547.8" y="29.3" font-size="13.3">n.s.</text>
<text x="536.0" y="40.9" font-size="13.3">n.s.</text>
<text transform="translate(540.5,295.0) rotate(-45)" font-size="15.7" text-anchor="end">P15-17</text>
<text transform="translate(562.2,292.7) rotate(-45)" font-size="15.7" text-anchor="end">P18-20</text>
<text transform="translate(581.5,292.7) rotate(-45)" font-size="15.7" text-anchor="end">P21-23</text>
<path d="M623.9 36.050000000000004V277.0" fill="none" stroke="#231f20" stroke-width="1.45"/>
<path d="M618.7 277.00H623.9" stroke="#231f20" stroke-width="1.45"/>
<text transform="translate(616.00,283.40) scale(1,1.05)" font-size="15.3" text-anchor="end">0.0</text>
<path d="M618.7 216.93H623.9" stroke="#231f20" stroke-width="1.45"/>
<text transform="translate(616.80,223.43) scale(1,1.05)" font-size="15.3" text-anchor="end">0.5</text>
<path d="M618.7 156.85H623.9" stroke="#231f20" stroke-width="1.45"/>
<text transform="translate(616.50,163.35) scale(1,1.05)" font-size="15.3" text-anchor="end">1.0</text>
<path d="M618.7 96.77H623.9" stroke="#231f20" stroke-width="1.45"/>
<text transform="translate(616.80,103.27) scale(1,1.05)" font-size="15.3" text-anchor="end">1.5</text>
<path d="M618.7 36.70H623.9" stroke="#231f20" stroke-width="1.45"/>
<text transform="translate(616.00,43.40) scale(1,1.05)" font-size="15.3" text-anchor="end">2.0</text>
<path d="M629.7 277.0H680.3" stroke="#231f20" stroke-width="1.45"/>
<text transform="translate(593.8,157.4) rotate(-90)" font-size="15.4" text-anchor="middle">10%-90% Rise time (ms)</text>
<path d="M638.4 59.5V214.3" stroke="#231f20" stroke-width="2.5" stroke-linecap="round"/>
<rect x="632.90" y="111.2" width="11.0" height="49.70" fill="#b5b6b8"/>
<path d="M633.10 131.8H643.70" stroke="#231f20" stroke-width="2.6" stroke-linecap="round"/>
<path d="M656.4 123.0V202.0" stroke="#231f20" stroke-width="2.5" stroke-linecap="round"/>
<rect x="650.90" y="152.7" width="11.0" height="30.80" fill="#b5b6b8"/>
<path d="M651.10 167.1H661.70" stroke="#231f20" stroke-width="2.6" stroke-linecap="round"/>
<path d="M674.4 106.7V204.60000000000002" stroke="#231f20" stroke-width="2.5" stroke-linecap="round"/>
<rect x="668.80" y="134.1" width="11.2" height="42.90" fill="#b5b6b8"/>
<path d="M669.00 159.8H679.80" stroke="#231f20" stroke-width="2.6" stroke-linecap="round"/>
<path d="M636.2 31.4H676.2" stroke="#231f20" stroke-width="1.5"/>
<path d="M637.0 43.0H656.2" stroke="#231f20" stroke-width="1.6"/>
<text x="651.9" y="29.3" font-size="13.2">n.s.</text>
<text x="639.8" y="40.8" font-size="13.2">n.s.</text>
<text transform="translate(647.5,294.8) rotate(-45)" font-size="15.7" text-anchor="end">P15-17</text>
<text transform="translate(668.3,292.8) rotate(-45)" font-size="15.7" text-anchor="end">P18-20</text>
<text transform="translate(686.8,293.5) rotate(-45)" font-size="15.7" text-anchor="end">P21-23</text>
</svg></body></html>
